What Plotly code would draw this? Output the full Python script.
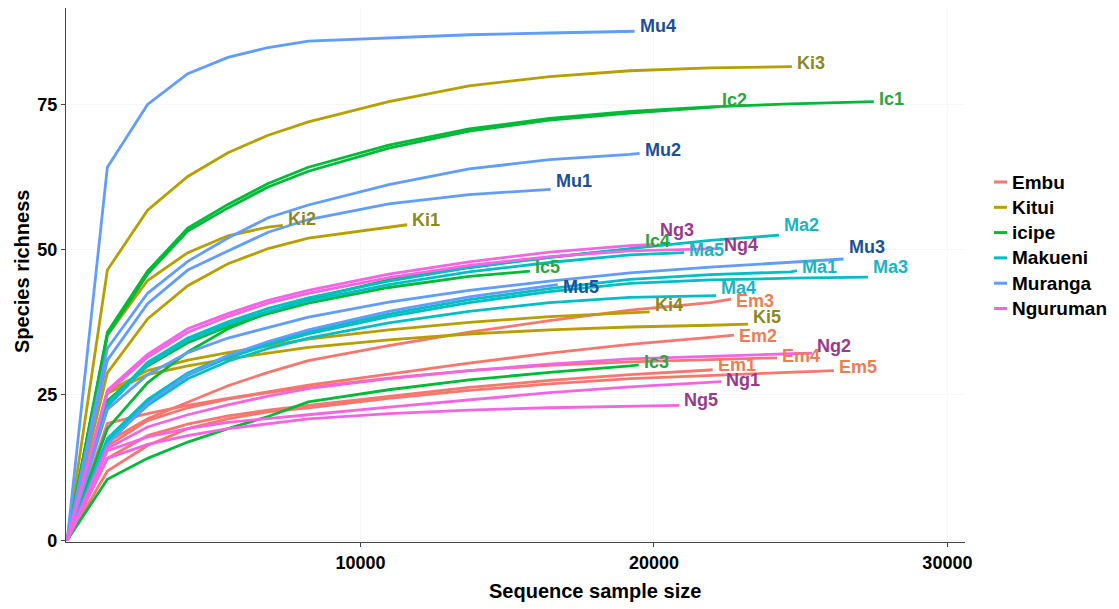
import plotly.graph_objects as go

# ---------------- data ----------------
groups = ["Embu", "Kitui", "icipe", "Makueni", "Muranga", "Nguruman"]
group_colors = ["#F8766D", "#B79F00", "#00BA38", "#00BFC4", "#619CFF", "#F564E3"]
label_colors = ["#F07C52", "#8C8A1E", "#2DA53E", "#19B6C2", "#1B4F9C", "#9A3A8C"]
group_prefix = {"Em": "Embu", "Ki": "Kitui", "Ic": "icipe", "Ma": "Makueni", "Mu": "Muranga", "Ng": "Nguruman"}

# rarefaction sample sizes (x positions of the computed points)
rare_steps = [0, 1370, 2740, 4110, 5480, 6850, 8220, 10960, 13700, 16440, 19180, 21920, 24660, 27400]

# total reads per sample (end of each curve)
sample_size = {
    "Em1": 22000, "Em2": 22730, "Em3": 22630, "Em4": 24200, "Em5": 26130,
    "Ki1": 11590, "Ki2": 7350, "Ki3": 24700, "Ki4": 19850, "Ki5": 23210,
    "Ic1": 27490, "Ic2": 22150, "Ic3": 19480, "Ic4": 19510, "Ic5": 15770,
    "Ma1": 24870, "Ma2": 24260, "Ma3": 27290, "Ma4": 22120, "Ma5": 21030,
    "Mu1": 16480, "Mu2": 19510, "Mu3": 26460, "Mu4": 19340, "Mu5": 16720,
    "Ng1": 22300, "Ng2": 25390, "Ng3": 20020, "Ng4": 22230, "Ng5": 20860,
}

# species richness at each rarefaction step below the sample size
richness = {
    "Em1": [0, 14.1, 18.0, 20.0, 21.4, 22.4, 23.2, 24.8, 26.3, 27.5, 28.5, 29.3],
    "Em2": [0, 20.1, 21.8, 23.2, 24.4, 25.6, 26.7, 28.6, 30.5, 32.2, 33.7, 34.9],
    "Em3": [0, 16.9, 20.9, 23.8, 26.6, 28.9, 30.9, 33.5, 35.8, 37.8, 39.6, 40.9],
    "Em4": [0, 16.2, 20.6, 22.8, 24.3, 25.4, 26.3, 27.9, 29.2, 30.1, 30.7, 31.1],
    "Em5": [0, 11.9, 16.3, 19.2, 20.9, 22.1, 22.8, 24.4, 25.8, 26.9, 27.8, 28.4, 28.9],
    "Ki1": [0, 28.8, 38.1, 43.8, 47.6, 50.2, 52.0, 53.8],
    "Ki2": [0, 35.3, 44.7, 49.5, 52.4, 53.9],
    "Ki3": [0, 46.5, 56.8, 62.6, 66.7, 69.7, 72.0, 75.5, 78.2, 79.8, 80.8, 81.3, 81.5],
    "Ki4": [0, 25.6, 29.2, 31.0, 32.3, 33.5, 34.6, 36.2, 37.5, 38.5, 39.2],
    "Ki5": [0, 25.3, 28.5, 30.0, 31.2, 32.2, 33.2, 34.5, 35.5, 36.2, 36.7, 37.0],
    "Ic1": [0, 35.8, 46.3, 53.7, 57.8, 61.4, 64.2, 68.0, 70.8, 72.6, 73.8, 74.6, 75.1, 75.4],
    "Ic2": [0, 35.3, 45.8, 53.2, 57.2, 60.8, 63.5, 67.5, 70.4, 72.3, 73.5, 74.4],
    "Ic3": [0, 10.5, 14.1, 16.9, 19.2, 21.3, 23.8, 25.9, 27.6, 28.9, 30.0],
    "Ic4": [0, 19.2, 27.1, 32.4, 36.4, 39.2, 41.5, 44.8, 47.0, 48.7, 50.1],
    "Ic5": [0, 24.0, 30.0, 34.0, 36.8, 39.0, 40.8, 43.5, 45.4],
    "Ma1": [0, 17.5, 24.2, 28.8, 31.8, 34.0, 35.9, 38.9, 41.4, 43.3, 44.9, 45.7, 46.2],
    "Ma2": [0, 23.5, 30.6, 34.8, 37.6, 39.9, 41.7, 44.6, 46.9, 48.7, 50.2, 51.6],
    "Ma3": [0, 17.0, 23.8, 28.4, 31.4, 33.6, 35.5, 38.5, 40.9, 42.8, 44.2, 44.8, 45.1],
    "Ma4": [0, 16.8, 23.2, 27.8, 30.8, 33.0, 34.8, 37.4, 39.4, 40.9, 41.8, 42.1],
    "Ma5": [0, 23.0, 30.2, 34.4, 37.2, 39.4, 41.2, 44.0, 46.2, 47.8, 49.1],
    "Mu1": [0, 31.0, 40.7, 46.5, 49.8, 53.0, 55.2, 57.9, 59.5, 60.4],
    "Mu2": [0, 33.0, 42.5, 48.0, 52.0, 55.5, 57.7, 61.2, 63.9, 65.5, 66.4],
    "Mu3": [0, 22.5, 28.5, 32.3, 34.8, 36.6, 38.4, 41.0, 43.0, 44.6, 46.0, 47.0, 47.8],
    "Mu4": [0, 64.2, 75.0, 80.3, 83.1, 84.8, 85.9, 86.5, 87.0, 87.3, 87.5],
    "Mu5": [0, 16.5, 23.5, 28.5, 31.8, 34.2, 36.2, 39.4, 41.9, 43.7],
    "Ng1": [0, 15.4, 17.8, 19.2, 20.3, 21.0, 21.6, 22.9, 24.2, 25.4, 26.4, 27.1],
    "Ng2": [0, 15.8, 19.5, 21.6, 23.3, 24.8, 26.1, 27.8, 29.2, 30.3, 31.2, 31.7, 32.1],
    "Ng3": [0, 25.8, 32.0, 36.4, 39.0, 41.3, 43.0, 45.8, 47.9, 49.6, 50.7],
    "Ng4": [0, 25.4, 31.5, 35.8, 38.5, 40.8, 42.5, 45.2, 47.3, 48.8, 49.8, 50.2],
    "Ng5": [0, 14.1, 16.5, 18.0, 19.2, 20.1, 20.9, 21.8, 22.4, 22.8, 23.1],
}

# observed richness at the full sample size
final_richness = {
    "Em1": 29.4, "Em2": 35.3, "Em3": 41.5, "Em4": 31.4, "Em5": 29.2,
    "Ki1": 54.3, "Ki2": 54.2, "Ki3": 81.5, "Ki4": 39.3, "Ki5": 37.2,
    "Ic1": 75.5, "Ic2": 74.6, "Ic3": 30.2, "Ic4": 50.5, "Ic5": 46.3,
    "Ma1": 46.4, "Ma2": 52.5, "Ma3": 45.3, "Ma4": 42.1, "Ma5": 49.5,
    "Mu1": 60.4, "Mu2": 66.6, "Mu3": 48.4, "Mu4": 87.6, "Mu5": 44.0,
    "Ng1": 27.3, "Ng2": 32.2, "Ng3": 50.9, "Ng4": 50.2, "Ng5": 23.2,
}

# ---------------- styling (label nudges in pixels, positive = up) ----------------
label_nudge = {
    "Mu4": 5, "Ki3": 4, "Ic1": 3, "Ic2": 7, "Mu2": 3, "Mu1": 8, "Ki2": 6, "Ki1": 5,
    "Ng3": 14, "Ic4": 6, "Ma5": 3, "Ng4": 4, "Ma2": 10, "Mu3": 12, "Ma1": 4, "Ma3": 10,
    "Ic5": 4, "Mu5": -2, "Ma4": 8, "Ki4": 7, "Em3": -2, "Ki5": 7, "Em2": -1, "Ng2": 7,
    "Em4": 2, "Ic3": 3, "Em1": 4, "Em5": 4, "Ng1": 2, "Ng5": 5,
}

FONT = "Liberation Sans, Arial, sans-serif"
W, H = 1119, 609
L, R, T, B = 66, 154, 8, 67

fig = go.Figure()
annotations = []

for name, ys in richness.items():
    gi = groups.index(group_prefix[name[:2]])
    end = sample_size[name]
    xs = [s for s in rare_steps if s < end]
    assert len(xs) == len(ys), name
    x_all = xs + [end]
    y_all = ys + [final_richness[name]]
    fig.add_trace(go.Scatter(
        x=x_all, y=y_all, mode="lines", name=name, showlegend=False,
        line=dict(color=group_colors[gi], width=2.8), hoverinfo="name+x+y",
    ))
    annotations.append(dict(
        x=end, y=final_richness[name], xref="x", yref="y", text=name,
        showarrow=False, xanchor="left", yanchor="middle", xshift=3,
        yshift=label_nudge.get(name, 0),
        font=dict(family=FONT, size=18, color=label_colors[gi], weight="bold"),
    ))

# manual legend (short line keys)
pw = W - L - R
ph = H - T - B
leg_y0 = 182
for i, (g, c) in enumerate(zip(groups, group_colors)):
    ypx = leg_y0 + i * 25.3
    yp = 1 - (ypx - T) / ph
    x0 = (994 - L) / pw
    x1 = (1007 - L) / pw
    fig.add_shape(type="line", xref="paper", yref="paper", x0=x0, x1=x1, y0=yp, y1=yp,
                  line=dict(color=c, width=3))
    annotations.append(dict(
        x=(1010 - L) / pw, y=yp, xref="paper", yref="paper", text=g, showarrow=False,
        xanchor="left", yanchor="middle",
        font=dict(family=FONT, size=19, color="black", weight="bold"),
    ))

# axis titles
annotations.append(dict(
    x=(595 - L) / pw, y=1 - (591 - T) / ph, xref="paper", yref="paper",
    text="Sequence sample size", showarrow=False, xanchor="center", yanchor="middle",
    font=dict(family=FONT, size=20, color="black", weight="bold"),
))
annotations.append(dict(
    x=(22 - L) / pw, y=1 - (272 - T) / ph, xref="paper", yref="paper",
    text="Species richness", showarrow=False, xanchor="center", yanchor="middle",
    textangle=-90,
    font=dict(family=FONT, size=20, color="black", weight="bold"),
))

fig.update_layout(
    width=W, height=H,
    margin=dict(l=L, r=R, t=T, b=B, pad=0),
    paper_bgcolor="white", plot_bgcolor="white",
    showlegend=False,
    annotations=annotations,
    font=dict(family=FONT, color="black"),
)
fig.update_xaxes(
    range=[-40, 30600], tickvals=[10000, 20000, 30000], ticktext=["10000", "20000", "30000"],
    showline=True, linecolor="#444444", linewidth=1.2, ticks="outside", ticklen=4,
    tickcolor="#444444", showgrid=True, gridcolor="#f7f7f7", gridwidth=1,
    zeroline=False, tickfont=dict(family=FONT, size=18, color="black", weight="bold"),
)
fig.update_yaxes(
    range=[-0.3, 91.6], tickvals=[0, 25, 50, 75],
    showline=True, linecolor="#444444", linewidth=1.2, ticks="outside", ticklen=4,
    tickcolor="#444444", showgrid=True, gridcolor="#f7f7f7", gridwidth=1,
    zeroline=False, tickfont=dict(family=FONT, size=18, color="black", weight="bold"),
)

fig.write_html("out.html")
